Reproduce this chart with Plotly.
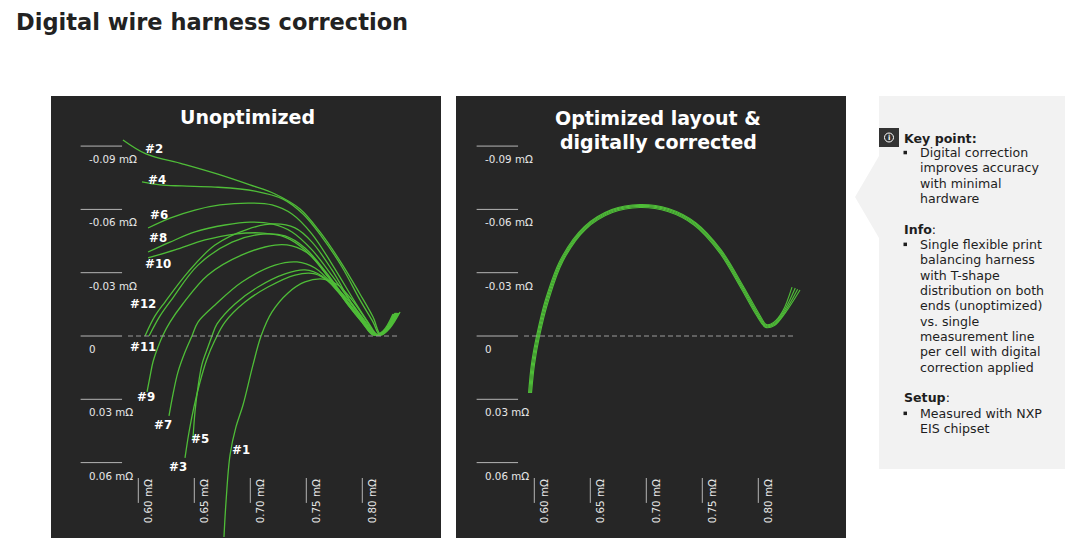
import plotly.graph_objects as go

W, H = 1080, 554
GREEN = "#4fbd38"
PANEL = "#262626"
FONT = "DejaVu Sans"

# ---------------- axis ticks ----------------
y_ticks = [-0.09, -0.06, -0.03, 0.0, 0.03, 0.06]
y_tick_labels = ["-0.09 mΩ", "-0.06 mΩ", "-0.03 mΩ", "0", "0.03 mΩ", "0.06 mΩ"]
x_ticks = [0.60, 0.65, 0.70, 0.75, 0.80]
x_tick_labels = ["0.60 mΩ", "0.65 mΩ", "0.70 mΩ", "0.75 mΩ", "0.80 mΩ"]

# ---------------- unoptimized curves (Re, Im in mΩ) ----------------
u1_x = [0.6765, 0.6783, 0.6819, 0.6872, 0.6935, 0.7024, 0.7096, 0.7194, 0.7337, 0.7488, 0.7649, 0.7783, 0.7908, 0.8024, 0.8131, 0.8220, 0.8310]
u1_y = [0.0953, 0.0787, 0.0564, 0.0431, 0.0327, 0.0137, 0.0000, -0.0114, -0.0204, -0.0256, -0.0270, -0.0242, -0.0171, -0.0085, -0.0005, -0.0024, -0.0109]

u2_x = [0.5863, 0.6069, 0.6399, 0.6703, 0.6997, 0.7221, 0.7444, 0.7622, 0.7819, 0.7979, 0.8096, 0.8167, 0.8247, 0.8337]
u2_y = [-0.0929, -0.0863, -0.0815, -0.0768, -0.0716, -0.0673, -0.0602, -0.0493, -0.0341, -0.0199, -0.0090, -0.0005, -0.0038, -0.0114]

u3_x = [0.6417, 0.6453, 0.6497, 0.6551, 0.6613, 0.6685, 0.6774, 0.6953, 0.7158, 0.7399, 0.7578, 0.7729, 0.7872, 0.7979, 0.8113, 0.8203, 0.8292]
u3_y = [0.0578, 0.0455, 0.0336, 0.0218, 0.0109, 0.0019, -0.0066, -0.0161, -0.0232, -0.0289, -0.0294, -0.0246, -0.0171, -0.0095, -0.0005, -0.0019, -0.0109]

u4_x = [0.6033, 0.6194, 0.6390, 0.6685, 0.7042, 0.7292, 0.7471, 0.7640, 0.7819, 0.7979, 0.8096, 0.8158, 0.8238, 0.8328]
u4_y = [-0.0730, -0.0716, -0.0711, -0.0706, -0.0687, -0.0649, -0.0578, -0.0469, -0.0327, -0.0171, -0.0066, -0.0005, -0.0038, -0.0109]

u5_x = [0.6488, 0.6506, 0.6533, 0.6569, 0.6622, 0.6658, 0.6703, 0.6863, 0.7069, 0.7310, 0.7488, 0.7640, 0.7801, 0.7935, 0.8024, 0.8104, 0.8194, 0.8283]
u5_y = [0.0488, 0.0360, 0.0242, 0.0133, 0.0052, 0.0000, -0.0057, -0.0152, -0.0232, -0.0294, -0.0313, -0.0284, -0.0199, -0.0114, -0.0057, -0.0005, -0.0019, -0.0104]

u6_x = [0.6087, 0.6283, 0.6506, 0.6730, 0.6997, 0.7194, 0.7372, 0.7551, 0.7729, 0.7935, 0.8051, 0.8140, 0.8229, 0.8319]
u6_y = [-0.0512, -0.0559, -0.0597, -0.0621, -0.0630, -0.0621, -0.0578, -0.0483, -0.0341, -0.0161, -0.0066, -0.0005, -0.0033, -0.0109]

u7_x = [0.6274, 0.6310, 0.6354, 0.6417, 0.6479, 0.6533, 0.6685, 0.6926, 0.7221, 0.7417, 0.7578, 0.7738, 0.7890, 0.7997, 0.8096, 0.8185, 0.8274]
u7_y = [0.0379, 0.0275, 0.0171, 0.0076, 0.0000, -0.0066, -0.0147, -0.0256, -0.0336, -0.0351, -0.0322, -0.0242, -0.0137, -0.0066, -0.0005, -0.0024, -0.0104]

u8_x = [0.6087, 0.6283, 0.6506, 0.6774, 0.6997, 0.7194, 0.7372, 0.7551, 0.7738, 0.7917, 0.8033, 0.8131, 0.8220, 0.8310]
u8_y = [-0.0398, -0.0445, -0.0493, -0.0526, -0.0540, -0.0531, -0.0493, -0.0408, -0.0280, -0.0147, -0.0066, -0.0005, -0.0028, -0.0109]

u9_x = [0.6078, 0.6104, 0.6131, 0.6176, 0.6221, 0.6283, 0.6390, 0.6622, 0.6926, 0.7221, 0.7372, 0.7533, 0.7694, 0.7872, 0.7997, 0.8104, 0.8194, 0.8283]
u9_y = [0.0265, 0.0194, 0.0123, 0.0052, -0.0005, -0.0066, -0.0147, -0.0289, -0.0384, -0.0431, -0.0427, -0.0384, -0.0280, -0.0147, -0.0066, -0.0005, -0.0024, -0.0104]

u10_x = [0.6087, 0.6328, 0.6596, 0.6863, 0.7113, 0.7310, 0.7488, 0.7685, 0.7890, 0.8015, 0.8122, 0.8212, 0.8301]
u10_y = [-0.0370, -0.0408, -0.0455, -0.0483, -0.0488, -0.0469, -0.0408, -0.0289, -0.0147, -0.0066, -0.0005, -0.0028, -0.0109]

u11_x = [0.6096, 0.6194, 0.6301, 0.6533, 0.6837, 0.7113, 0.7310, 0.7488, 0.7676, 0.7890, 0.8006, 0.8113, 0.8203, 0.8292]
u11_y = [0.0000, -0.0095, -0.0175, -0.0336, -0.0445, -0.0483, -0.0474, -0.0417, -0.0303, -0.0147, -0.0066, -0.0005, -0.0024, -0.0104]

u12_x = [0.6060, 0.6149, 0.6238, 0.6444, 0.6685, 0.6980, 0.7221, 0.7399, 0.7551, 0.7729, 0.7908, 0.8024, 0.8122, 0.8212, 0.8301]
u12_y = [0.0000, -0.0095, -0.0161, -0.0303, -0.0431, -0.0507, -0.0531, -0.0512, -0.0445, -0.0313, -0.0152, -0.0066, -0.0005, -0.0028, -0.0109]

# curve label anchor positions (Re, Im)
label_names = ["#1", "#2", "#3", "#4", "#5", "#6", "#7", "#8", "#9", "#10", "#11", "#12"]
label_x = [0.6917, 0.6140, 0.6355, 0.6167, 0.6551, 0.6185, 0.6221, 0.6176, 0.6069, 0.6176, 0.6042, 0.6042]
label_y = [0.0540, -0.0886, 0.0621, -0.0739, 0.0488, -0.0573, 0.0422, -0.0464, 0.0289, -0.0341, 0.0052, -0.0152]

# ---------------- optimized + corrected curves ----------------
o1_x = [0.5949, 0.5975, 0.6021, 0.6101, 0.6237, 0.6446, 0.6691, 0.6944, 0.7197, 0.7441, 0.7668, 0.7866, 0.8009, 0.8073, 0.8136, 0.8218, 0.8301]
o1_y = [0.0270, 0.0132, -0.0002, -0.0174, -0.0365, -0.0518, -0.0599, -0.0623, -0.0604, -0.0537, -0.0408, -0.0236, -0.0103, -0.0054, -0.0064, -0.0118, -0.0232]

o2_x = [0.5958, 0.5984, 0.6029, 0.6109, 0.6244, 0.6450, 0.6693, 0.6944, 0.7195, 0.7437, 0.7662, 0.7858, 0.8001, 0.8070, 0.8139, 0.8226, 0.8330]
o2_y = [0.0270, 0.0132, -0.0001, -0.0172, -0.0362, -0.0514, -0.0595, -0.0619, -0.0600, -0.0533, -0.0405, -0.0234, -0.0101, -0.0050, -0.0059, -0.0115, -0.0227]

o3_x = [0.5967, 0.5993, 0.6038, 0.6117, 0.6251, 0.6455, 0.6695, 0.6944, 0.7193, 0.7432, 0.7655, 0.7851, 0.7994, 0.8067, 0.8142, 0.8233, 0.8351]
o3_y = [0.0270, 0.0133, 0.0000, -0.0169, -0.0359, -0.0510, -0.0590, -0.0614, -0.0595, -0.0529, -0.0402, -0.0231, -0.0098, -0.0045, -0.0054, -0.0112, -0.0222]

o4_x = [0.5975, 0.6002, 0.6046, 0.6126, 0.6257, 0.6459, 0.6697, 0.6944, 0.7191, 0.7428, 0.7648, 0.7843, 0.7986, 0.8065, 0.8144, 0.8241, 0.8372]
o4_y = [0.0270, 0.0133, 0.0002, -0.0167, -0.0356, -0.0506, -0.0585, -0.0609, -0.0590, -0.0525, -0.0399, -0.0229, -0.0096, -0.0041, -0.0050, -0.0110, -0.0218]

unopt = [(u1_x, u1_y), (u2_x, u2_y), (u3_x, u3_y), (u4_x, u4_y), (u5_x, u5_y), (u6_x, u6_y),
         (u7_x, u7_y), (u8_x, u8_y), (u9_x, u9_y), (u10_x, u10_y), (u11_x, u11_y), (u12_x, u12_y)]
opt = [(o1_x, o1_y), (o2_x, o2_y), (o3_x, o3_y), (o4_x, o4_y)]

fig = go.Figure()
for xs, ys in unopt:
    fig.add_trace(go.Scatter(x=xs, y=ys, mode="lines", xaxis="x", yaxis="y",
                             line=dict(color=GREEN, width=1.3, shape="spline"),
                             hoverinfo="skip", showlegend=False))
for xs, ys in opt:
    fig.add_trace(go.Scatter(x=xs, y=ys, mode="lines", xaxis="x2", yaxis="y2",
                             line=dict(color=GREEN, width=1.15, shape="spline"),
                             hoverinfo="skip", showlegend=False))

shapes = []
annotations = []
TICKFONT = dict(family=FONT, size=10.3, color="#e6e6e6")

for xr, yr in [("x", "y"), ("x2", "y2")]:
    # dashed zero line
    shapes.append(dict(type="line", xref=xr, yref=yr, x0=0.5908, x1=0.8310, y0=0, y1=0,
                       line=dict(color="#9a9a9a", width=1, dash="5px,3px")))
    # y tick marks + labels
    for v, t in zip(y_ticks, y_tick_labels):
        shapes.append(dict(type="line", xref=xr, yref=yr, x0=0.5485, x1=0.5855, y0=v, y1=v,
                           line=dict(color="#b5b5b5", width=1)))
        annotations.append(dict(text=t, xref=xr, yref=yr, x=0.5545, y=v, yshift=-13,
                                xanchor="left", yanchor="middle", showarrow=False, font=TICKFONT))
    # x tick marks + labels
    for v, t in zip(x_ticks, x_tick_labels):
        shapes.append(dict(type="line", xref=xr, yref=yr, x0=v, x1=v, y0=0.0673, y1=0.0791,
                           line=dict(color="#b5b5b5", width=1)))
        annotations.append(dict(text=t, xref=xr, yref=yr, x=v, y=0.0782, xshift=10,
                                textangle=-90, xanchor="center", yanchor="middle", showarrow=False,
                                font=TICKFONT))

# curve labels
for n, lx, ly in zip(label_names, label_x, label_y):
    annotations.append(dict(text="<b>" + n + "</b>", xref="x", yref="y", x=lx, y=ly,
                            xanchor="center", yanchor="middle", showarrow=False,
                            font=dict(family=FONT, size=11.8, color="#ffffff")))

def px(x):
    return x / W

def py(y):
    return 1 - y / H

# panel titles
TITLEFONT = dict(family=FONT, size=19, color="#ffffff")
annotations.append(dict(text="<b>Unoptimized</b>", xref="paper", yref="paper", x=px(247.5), y=py(117),
                        xanchor="center", yanchor="middle", showarrow=False, font=TITLEFONT))
annotations.append(dict(text="<b>Optimized layout &amp;</b>", xref="paper", yref="paper", x=px(658), y=py(117.5),
                        xanchor="center", yanchor="middle", showarrow=False, font=TITLEFONT))
annotations.append(dict(text="<b>digitally corrected</b>", xref="paper", yref="paper", x=px(658), y=py(141.5),
                        xanchor="center", yanchor="middle", showarrow=False, font=TITLEFONT))

# main title
annotations.append(dict(text="<b>Digital wire harness correction</b>", xref="paper", yref="paper",
                        x=px(14), y=py(22), xanchor="left", yanchor="middle", showarrow=False,
                        font=dict(family=FONT, size=22.5, color="#222222")))

# side box with pointer
pts = [(879, 96), (1065, 96), (1065, 469), (879, 469), (879, 238), (855, 197), (879, 156)]
path = "M " + " L ".join(f"{px(a):.5f},{py(b):.5f}" for a, b in pts) + " Z"
shapes.append(dict(type="path", xref="paper", yref="paper", path=path,
                   fillcolor="#f2f2f2", line=dict(width=0), layer="below"))
# info icon
shapes.append(dict(type="rect", xref="paper", yref="paper", x0=px(879), x1=px(899), y0=py(147), y1=py(128),
                   fillcolor="#333333", line=dict(width=0)))
shapes.append(dict(type="circle", xref="paper", yref="paper", x0=px(884.5), x1=px(893.5), y0=py(142), y1=py(133),
                   line=dict(color="#ffffff", width=1)))
annotations.append(dict(text="<b>i</b>", xref="paper", yref="paper", x=px(889), y=py(137.5),
                        xanchor="center", yanchor="middle", showarrow=False,
                        font=dict(family="DejaVu Sans", size=7, color="#ffffff")))

side_lines = [
    ("<b>Key point:</b>", 902, 138, False),
    ("Digital correction", 918, 152.5, True),
    ("improves accuracy", 918, 167.8, False),
    ("with minimal", 918, 183, False),
    ("hardware", 918, 198.3, False),
    ("<b>Info</b>:", 902, 229, False),
    ("Single flexible print", 918, 244.3, True),
    ("balancing harness", 918, 259.6, False),
    ("with T-shape", 918, 275, False),
    ("distribution on both", 918, 290.3, False),
    ("ends (unoptimized)", 918, 305.6, False),
    ("vs. single", 918, 321, False),
    ("measurement line", 918, 336.3, False),
    ("per cell with digital", 918, 351.6, False),
    ("correction applied", 918, 367, False),
    ("<b>Setup</b>:", 902, 397.7, False),
    ("Measured with NXP", 918, 413.3, True),
    ("EIS chipset", 918, 428.5, False),
]
for text, x0, y0, bullet in side_lines:
    annotations.append(dict(text=text, xref="paper", yref="paper", x=px(x0), y=py(y0),
                            xanchor="left", yanchor="middle", showarrow=False,
                            font=dict(family=FONT, size=12.6, color="#1e1e1e")))
    if bullet:
        shapes.append(dict(type="rect", xref="paper", yref="paper", x0=px(903.5), x1=px(907),
                           y0=py(y0 + 1.8), y1=py(y0 - 1.7), fillcolor="#1e1e1e", line=dict(width=0)))

axis_common = dict(showgrid=False, zeroline=False, showticklabels=False, showline=False, ticks="",
                   fixedrange=True)
fig.update_layout(
    width=W, height=H,
    margin=dict(l=0, r=0, t=0, b=0),
    paper_bgcolor="#ffffff",
    plot_bgcolor=PANEL,
    showlegend=False,
    xaxis=dict(domain=[51 / W, 441 / W], range=[0.52205, 0.87027], anchor="y", **axis_common),
    yaxis=dict(domain=[1 - 538 / H, 1 - 96 / H], range=[0.09573, -0.11374], anchor="x", **axis_common),
    xaxis2=dict(domain=[456 / W, 846 / W], range=[0.53009, 0.87830], anchor="y2", **axis_common),
    yaxis2=dict(domain=[1 - 538 / H, 1 - 96 / H], range=[0.09573, -0.11374], anchor="x2", **axis_common),
    shapes=shapes,
    annotations=annotations,
    font=dict(family=FONT),
)

fig.write_html("out.html", config={"displayModeBar": False},
               post_script="document.body.style.margin='0';document.body.style.overflow='hidden';")
